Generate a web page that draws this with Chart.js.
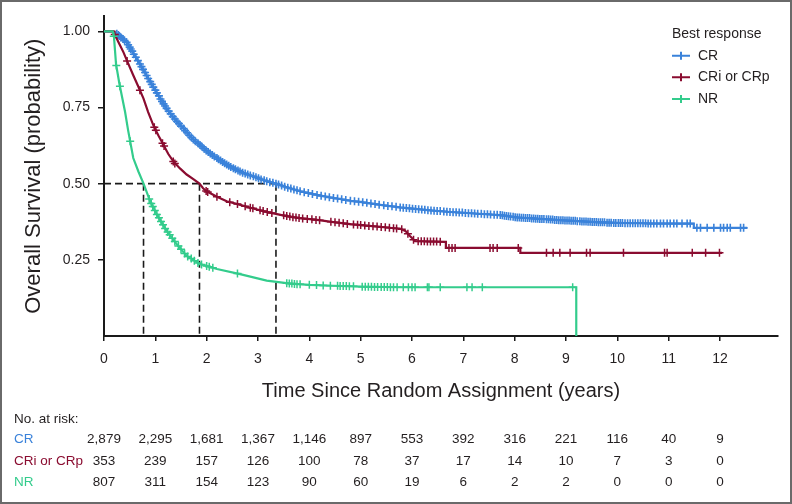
<!DOCTYPE html>
<html>
<head>
<meta charset="utf-8">
<title>Overall survival by best response</title>
<script src="https://cdn.jsdelivr.net/npm/chart.js@4.4.1/dist/chart.umd.min.js"></script>
<style>
  html, body { margin: 0; padding: 0; background: #fff; }
  #wrap { width: 792px; height: 504px; }
  canvas { display: block; }
</style>
</head>
<body>
<div id="wrap"><canvas id="km" width="792" height="504"></canvas></div>
<script>
// --- data ---
const groups = ['CR', 'CRi or CRp', 'NR'];
const groupColors = ['#3a82da', '#8a0c30', '#33cc8c'];

const xTicks = [0, 1, 2, 3, 4, 5, 6, 7, 8, 9, 10, 11, 12];
const yTicks = [0.25, 0.50, 0.75, 1.00];

// Kaplan-Meier curves (years, survival probability)
const crTime = [0, 0.18, 0.21, 0.30, 0.44, 0.55, 0.70, 0.83, 0.96, 1.10, 1.22, 1.38, 1.55, 1.70, 1.87, 2.03,
  2.20, 2.35, 2.52, 2.70, 2.91, 3.12, 3.35, 3.58, 3.82, 4.15, 4.47, 4.80, 5.12, 5.45, 5.77, 6.25, 6.74,
  7.22, 7.72, 8.05, 8.37, 8.70, 9.02, 9.35, 9.67, 10.00, 10.32, 11.49, 11.49, 12.53];
const crSurv = [1, 1, 0.997, 0.985, 0.964, 0.935, 0.893, 0.855, 0.817, 0.778, 0.747, 0.712, 0.681, 0.652, 0.627, 0.604,
  0.584, 0.567, 0.551, 0.536, 0.524, 0.511, 0.500, 0.487, 0.475, 0.463, 0.453, 0.444, 0.437, 0.429, 0.422, 0.414, 0.407,
  0.402, 0.397, 0.389, 0.386, 0.382, 0.379, 0.376, 0.373, 0.371, 0.370, 0.369, 0.355, 0.355];

const criTime = [0, 0.18, 0.21, 0.28, 0.38, 0.47, 0.57, 0.67, 0.77, 0.86, 0.96, 1.06, 1.16, 1.25, 1.35, 1.48, 1.61,
  1.74, 1.86, 1.93, 2.00, 2.20, 2.39, 2.62, 2.85, 3.10, 3.37, 3.60, 3.82, 4.15, 4.47, 4.80, 5.12, 5.45, 5.77,
  5.87, 5.96, 6.06, 6.66, 6.66, 8.11, 8.11, 12.04];
const criSurv = [1, 1, 0.990, 0.965, 0.931, 0.895, 0.856, 0.818, 0.779, 0.735, 0.692, 0.658, 0.627, 0.598, 0.573, 0.550, 0.530,
  0.515, 0.500, 0.485, 0.475, 0.457, 0.442, 0.432, 0.421, 0.410, 0.400, 0.392, 0.387, 0.381, 0.374, 0.367, 0.362, 0.357, 0.352,
  0.345, 0.328, 0.311, 0.309, 0.289, 0.289, 0.273, 0.273];

const nrTime = [0, 0.17, 0.195, 0.234, 0.30, 0.41, 0.47, 0.57, 0.67, 0.77, 0.90, 1.03, 1.22, 1.42, 1.61, 1.87,
  2.20, 2.65, 3.17, 3.63, 4.00, 4.47, 5.00, 5.77, 9.20, 9.20];
const nrSurv = [1, 1, 0.980, 0.893, 0.828, 0.736, 0.675, 0.584, 0.540, 0.500, 0.442, 0.399, 0.345, 0.301, 0.263, 0.236,
  0.220, 0.203, 0.182, 0.172, 0.168, 0.165, 0.162, 0.160, 0.160, 0];

// censored observations [years, survival]
const crCensor = [[0.25, 0.992], [0.28, 0.988], [0.30, 0.985], [0.33, 0.980], [0.37, 0.975], [0.40, 0.970], [0.44, 0.964],
  [0.47, 0.956], [0.50, 0.948], [0.52, 0.942], [0.55, 0.935], [0.58, 0.925], [0.62, 0.915], [0.66, 0.904], [0.70, 0.893],
  [0.73, 0.884], [0.76, 0.875], [0.80, 0.865], [0.83, 0.855], [0.86, 0.845], [0.90, 0.835], [0.93, 0.826], [0.96, 0.817],
  [1.00, 0.807], [1.03, 0.798], [1.07, 0.788], [1.10, 0.778], [1.13, 0.770], [1.16, 0.762], [1.19, 0.755], [1.22, 0.747],
  [1.26, 0.738], [1.30, 0.729], [1.34, 0.720], [1.38, 0.712], [1.42, 0.704], [1.46, 0.697], [1.50, 0.689], [1.55, 0.681],
  [1.58, 0.674], [1.62, 0.667], [1.66, 0.659], [1.70, 0.652], [1.74, 0.645], [1.78, 0.639], [1.83, 0.633], [1.87, 0.627],
  [1.91, 0.621], [1.95, 0.615], [1.99, 0.609], [2.03, 0.604], [2.07, 0.599], [2.11, 0.594], [2.15, 0.589], [2.20, 0.584],
  [2.23, 0.580], [2.27, 0.576], [2.31, 0.571], [2.35, 0.567], [2.39, 0.563], [2.43, 0.559], [2.47, 0.555], [2.52, 0.551],
  [2.56, 0.547], [2.61, 0.543], [2.65, 0.540], [2.70, 0.536], [2.75, 0.533], [2.80, 0.530], [2.85, 0.527], [2.91, 0.524],
  [2.96, 0.521], [3.01, 0.518], [3.06, 0.514], [3.12, 0.511], [3.17, 0.508], [3.23, 0.505], [3.29, 0.503], [3.35, 0.500],
  [3.40, 0.497], [3.46, 0.494], [3.52, 0.490], [3.58, 0.487], [3.64, 0.484], [3.70, 0.481], [3.76, 0.478], [3.82, 0.475],
  [3.90, 0.472], [3.98, 0.469], [4.06, 0.466], [4.15, 0.463], [4.23, 0.460], [4.31, 0.458], [4.39, 0.455], [4.47, 0.453],
  [4.55, 0.451], [4.63, 0.449], [4.71, 0.446], [4.80, 0.444], [4.88, 0.442], [4.96, 0.441], [5.04, 0.439], [5.12, 0.437],
  [5.20, 0.435], [5.28, 0.433], [5.36, 0.431], [5.45, 0.429], [5.53, 0.427], [5.61, 0.426], [5.69, 0.424], [5.77, 0.422],
  [5.83, 0.421], [5.89, 0.420], [5.95, 0.419], [6.01, 0.418], [6.07, 0.417], [6.13, 0.416], [6.19, 0.415], [6.25, 0.414],
  [6.31, 0.413], [6.37, 0.412], [6.43, 0.411], [6.49, 0.410], [6.55, 0.410], [6.62, 0.409], [6.68, 0.408], [6.74, 0.407],
  [6.80, 0.406], [6.86, 0.406], [6.92, 0.405], [6.98, 0.405], [7.04, 0.404], [7.10, 0.403], [7.16, 0.403], [7.22, 0.402],
  [7.28, 0.401], [7.35, 0.401], [7.41, 0.400], [7.47, 0.400], [7.53, 0.399], [7.60, 0.398], [7.66, 0.398], [7.72, 0.397],
  [7.76, 0.396], [7.80, 0.395], [7.84, 0.394], [7.88, 0.393], [7.92, 0.392], [7.97, 0.391], [8.01, 0.390], [8.05, 0.389],
  [8.09, 0.389], [8.13, 0.388], [8.17, 0.388], [8.21, 0.387], [8.25, 0.387], [8.29, 0.387], [8.33, 0.386], [8.37, 0.386],
  [8.41, 0.385], [8.45, 0.385], [8.49, 0.384], [8.53, 0.384], [8.57, 0.384], [8.62, 0.383], [8.66, 0.383], [8.70, 0.382],
  [8.74, 0.382], [8.78, 0.381], [8.82, 0.381], [8.86, 0.380], [8.90, 0.380], [8.94, 0.380], [8.98, 0.379], [9.02, 0.379],
  [9.06, 0.379], [9.10, 0.378], [9.14, 0.378], [9.18, 0.378], [9.22, 0.377], [9.27, 0.377], [9.31, 0.376], [9.35, 0.376],
  [9.39, 0.376], [9.43, 0.375], [9.47, 0.375], [9.51, 0.374], [9.55, 0.374], [9.59, 0.374], [9.63, 0.373], [9.67, 0.373],
  [9.71, 0.373], [9.75, 0.373], [9.80, 0.372], [9.84, 0.372], [9.88, 0.372], [9.93, 0.371], [9.97, 0.371], [10.02, 0.371],
  [10.06, 0.371], [10.10, 0.371], [10.15, 0.370], [10.20, 0.370], [10.25, 0.370], [10.30, 0.370], [10.35, 0.370],
  [10.40, 0.370], [10.45, 0.370], [10.50, 0.370], [10.55, 0.370], [10.60, 0.369], [10.65, 0.369], [10.71, 0.369],
  [10.77, 0.369], [10.84, 0.369], [10.90, 0.369], [10.97, 0.369], [11.03, 0.369], [11.10, 0.369], [11.16, 0.369],
  [11.26, 0.369], [11.36, 0.369], [11.42, 0.369], [11.55, 0.355], [11.62, 0.355], [11.75, 0.355], [11.88, 0.355],
  [12.01, 0.355], [12.07, 0.355], [12.14, 0.355], [12.20, 0.355], [12.40, 0.355], [12.46, 0.355]];

const criCensor = [[0.21, 0.990], [0.45, 0.903], [0.70, 0.807], [0.98, 0.685], [1.01, 0.675], [1.14, 0.633], [1.17, 0.624],
  [1.35, 0.573], [1.38, 0.566], [1.99, 0.476], [2.02, 0.473], [2.20, 0.457], [2.45, 0.439], [2.60, 0.433], [2.75, 0.426],
  [2.85, 0.421], [2.90, 0.419], [3.04, 0.413], [3.10, 0.410], [3.18, 0.407], [3.27, 0.404], [3.50, 0.396], [3.56, 0.394],
  [3.62, 0.392], [3.68, 0.390], [3.74, 0.389], [3.80, 0.387], [3.87, 0.386], [3.96, 0.384], [4.05, 0.383], [4.13, 0.381],
  [4.20, 0.380], [4.42, 0.375], [4.50, 0.373], [4.58, 0.372], [4.66, 0.370], [4.74, 0.368], [4.86, 0.366], [4.94, 0.365],
  [5.00, 0.364], [5.08, 0.363], [5.16, 0.361], [5.24, 0.360], [5.32, 0.359], [5.40, 0.358], [5.48, 0.357], [5.56, 0.355],
  [5.64, 0.354], [5.70, 0.353], [5.80, 0.350], [5.92, 0.336], [6.03, 0.316], [6.12, 0.311], [6.18, 0.311], [6.24, 0.311],
  [6.30, 0.310], [6.36, 0.310], [6.42, 0.310], [6.48, 0.310], [6.55, 0.309], [6.72, 0.289], [6.78, 0.289], [6.84, 0.289],
  [7.52, 0.289], [7.58, 0.289], [7.66, 0.289], [8.07, 0.289], [8.62, 0.273], [8.75, 0.273], [8.88, 0.273], [9.08, 0.273],
  [9.40, 0.273], [9.47, 0.273], [10.12, 0.273], [10.92, 0.273], [10.97, 0.273], [11.46, 0.273], [11.72, 0.273],
  [11.99, 0.273]];

const nrCensor = [[0.19, 0.984], [0.24, 0.888], [0.31, 0.820], [0.51, 0.639], [0.88, 0.450], [0.92, 0.435], [0.95, 0.425],
  [0.99, 0.412], [1.03, 0.399], [1.07, 0.388], [1.11, 0.376], [1.15, 0.365], [1.19, 0.353], [1.24, 0.341], [1.28, 0.332],
  [1.33, 0.321], [1.38, 0.310], [1.45, 0.295], [1.50, 0.285], [1.57, 0.271], [1.63, 0.261], [1.70, 0.254], [1.76, 0.247],
  [1.83, 0.240], [1.90, 0.235], [2.00, 0.230], [2.05, 0.227], [2.12, 0.224], [2.60, 0.205], [3.56, 0.173], [3.61, 0.172],
  [3.66, 0.172], [3.71, 0.171], [3.76, 0.170], [3.82, 0.170], [4.00, 0.168], [4.14, 0.167], [4.27, 0.166], [4.41, 0.165],
  [4.55, 0.165], [4.60, 0.164], [4.66, 0.164], [4.72, 0.164], [4.78, 0.163], [4.86, 0.163], [5.03, 0.162], [5.09, 0.162],
  [5.15, 0.162], [5.21, 0.162], [5.27, 0.161], [5.33, 0.161], [5.40, 0.161], [5.46, 0.161], [5.52, 0.161], [5.58, 0.160],
  [5.64, 0.160], [5.71, 0.160], [5.83, 0.160], [5.93, 0.160], [6.00, 0.160], [6.06, 0.160], [6.30, 0.160], [6.33, 0.160],
  [6.55, 0.160], [7.07, 0.160], [7.17, 0.160], [7.37, 0.160], [9.13, 0.160]];

// median survival times (years)
const medianTimes = [0.77, 1.86, 3.35];

// number at risk at each year
const riskCR = [2879, 2295, 1681, 1367, 1146, 897, 553, 392, 316, 221, 116, 40, 9];
const riskCRi = [353, 239, 157, 126, 100, 78, 37, 17, 14, 10, 7, 3, 0];
const riskNR = [807, 311, 154, 123, 90, 60, 19, 6, 2, 2, 0, 0, 0];

// --- chart ---
const FONT = '"Liberation Sans", Arial, Helvetica, sans-serif';
const INK = '#231f20';
Chart.defaults.font.family = FONT;
Chart.defaults.color = INK;

const toXY = (t, s) => t.map((v, i) => ({ x: v, y: s[i] }));
const pairs = arr => arr.map(p => ({ x: p[0], y: p[1] }));

function curve(label, t, s, color, order) {
  return { label, data: toXY(t, s), showLine: true, borderColor: color, borderWidth: 2.2,
    pointRadius: 0, tension: 0, order };
}
function censor(label, pts, color, order, width) {
  return { label, data: pairs(pts), showLine: false, pointStyle: 'cross', pointRadius: 4,
    pointBorderColor: color, pointBorderWidth: width, pointHoverRadius: 4, order };
}
function dashed(pts) {
  return { label: 'median', data: pts, showLine: true, borderColor: '#1a1a1a', borderWidth: 1.6,
    borderDash: [7, 4], pointRadius: 0, order: 10 };
}

const datasets = [
  curve(groups[0], crTime, crSurv, groupColors[0], 3),
  censor(groups[0], crCensor, groupColors[0], 3, 1.6),
  curve(groups[1], criTime, criSurv, groupColors[1], 2),
  censor(groups[1], criCensor, groupColors[1], 2, 1.5),
  curve(groups[2], nrTime, nrSurv, groupColors[2], 1),
  censor(groups[2], nrCensor, groupColors[2], 1, 1.5),
  dashed([{ x: 0, y: 0.5 }, { x: Math.max(...medianTimes), y: 0.5 }])
];
medianTimes.forEach(m => datasets.push(dashed([{ x: m, y: 0.5 }, { x: m, y: 0 }])));

// legend drawn inside the plot, top right
const legendBox = {
  id: 'legendBox',
  afterDraw(chart) {
    const { ctx } = chart;
    ctx.save();
    ctx.font = '14px ' + FONT;
    ctx.textBaseline = 'middle';
    ctx.textAlign = 'left';
    ctx.fillStyle = INK;
    ctx.fillText('Best response', 672, 34);
    groups.forEach((g, i) => {
      const y = 55.7 + i * 21.6;
      ctx.strokeStyle = groupColors[i];
      ctx.lineWidth = 2;
      ctx.beginPath();
      ctx.moveTo(672, y); ctx.lineTo(690, y);
      ctx.moveTo(681, y - 4); ctx.lineTo(681, y + 4);
      ctx.stroke();
      ctx.fillStyle = INK;
      ctx.fillText(g, 698, y);
    });
    ctx.restore();
  }
};

// number-at-risk table under the x axis, columns on the year ticks
const riskTable = {
  id: 'riskTable',
  afterDraw(chart) {
    const { ctx } = chart;
    const x = chart.scales.x;
    const rows = [riskCR, riskCRi, riskNR];
    ctx.save();
    ctx.font = '13.5px ' + FONT;
    ctx.textBaseline = 'middle';
    ctx.textAlign = 'left';
    ctx.fillStyle = INK;
    ctx.fillText('No. at risk:', 14, 419);
    rows.forEach((row, i) => {
      const y = 439.5 + i * 21.5;
      ctx.textAlign = 'left';
      ctx.fillStyle = groupColors[i];
      ctx.fillText(groups[i], 14, y);
      ctx.textAlign = 'center';
      ctx.fillStyle = INK;
      row.forEach((n, j) => ctx.fillText(n.toLocaleString('en-US'), x.getPixelForValue(xTicks[j]), y));
    });
    // frame round the figure
    ctx.strokeStyle = '#6a6a6a';
    ctx.lineWidth = 2;
    ctx.strokeRect(1, 1, 790, 502);
    ctx.restore();
  }
};

new Chart(document.getElementById('km'), {
  type: 'scatter',
  data: { datasets },
  plugins: [legendBox, riskTable],
  options: {
    responsive: false,
    animation: false,
    layout: { padding: { left: 0, top: 14, right: 14, bottom: 98 } },
    plugins: { legend: { display: false }, tooltip: { enabled: false } },
    scales: {
      x: {
        type: 'linear', min: 0, max: 13.13,
        afterBuildTicks: s => { s.ticks = xTicks.map(v => ({ value: v })); },
        afterFit: s => { s.height = 70; },
        grid: { drawOnChartArea: false, drawTicks: true, tickLength: 5, color: '#1a1a1a', lineWidth: 1.5 },
        border: { color: '#1a1a1a', width: 2 },
        ticks: { font: { size: 14 }, color: INK, padding: 10, maxRotation: 0, autoSkip: false },
        title: { display: true, text: 'Time Since Random Assignment (years)', font: { size: 20 }, color: INK,
          padding: { top: 0, bottom: 3 } }
      },
      y: {
        type: 'linear', min: 0, max: 1.049,
        afterBuildTicks: s => { s.ticks = yTicks.map(v => ({ value: v })); },
        afterFit: s => { s.width = 104; },
        grid: { drawOnChartArea: false, drawTicks: true, tickLength: 6, color: '#1a1a1a', lineWidth: 1.5 },
        border: { color: '#1a1a1a', width: 2 },
        ticks: { font: { size: 14 }, color: INK, padding: 8, callback: v => v.toFixed(2) },
        title: { display: true, text: 'Overall Survival (probability)', font: { size: 22 }, color: INK,
          padding: { top: 21, bottom: 0 } }
      }
    }
  }
});
</script>
</body>
</html>
